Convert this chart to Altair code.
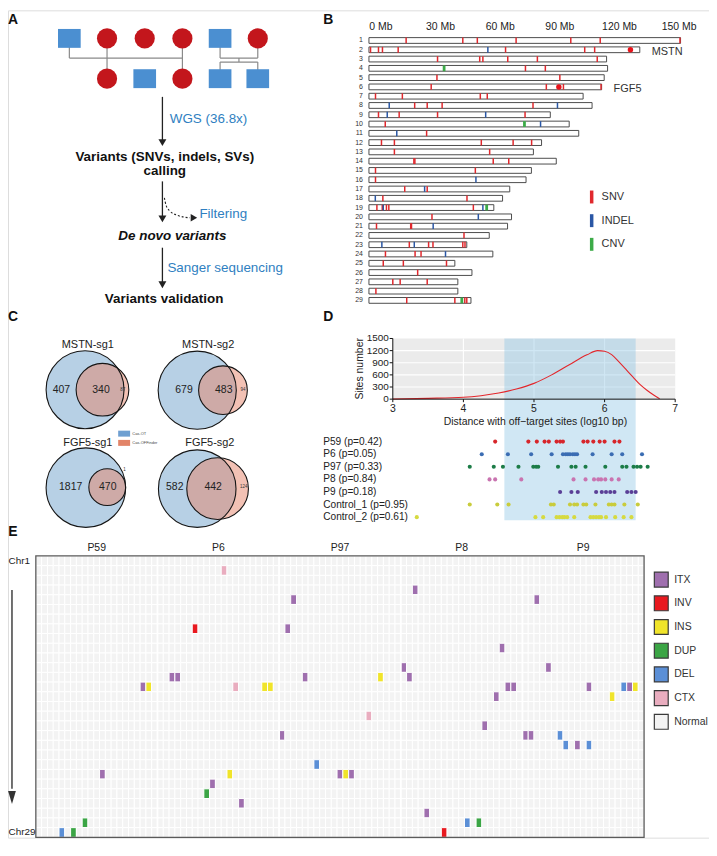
import altair as alt
import pandas as pd

OFF = 8
W, H = 705, 832
FONT = "Liberation Sans"
E_SHIFT = -14.0

# ===================== DATA =====================
# ---- Panel A: pedigree and workflow ----
ped_sex = ["M", "F", "F", "F", "M", "F", "F", "M", "F", "M", "M"]
ped_col = [0, 1, 2, 3, 4, 5, 1, 2, 3, 4, 5]
ped_gen = [0, 0, 0, 0, 0, 0, 1, 1, 1, 1, 1]
flow_steps = ["Variants (SNVs, indels, SVs)", "calling", "De novo variants", "Variants validation"]
flow_actions = ["WGS (36.8x)", "Filtering", "Sanger sequencing"]

# ---- Panel B: chromosome map ----
chrom_ids = list(range(1, 30))
chrom_len_mb = [156.7, 136.2, 119.5, 120.0, 118.3, 117.0, 107.7, 112.2, 91.2, 100.7,
                105.5, 86.8, 82.7, 94.2, 81.7, 79.0, 70.8, 67.2, 62.8, 71.7,
                69.7, 60.5, 49.2, 62.3, 43.2, 51.8, 44.7, 44.7, 51.3]
snv_by_chrom = {
    1: [18.7, 47.2, 54.5, 74.0, 101.5, 116.3, 156.4],
    2: [0.8, 4.8, 6.8, 14.7, 68.7, 108.5, 113.5],
    3: [34.5, 55.7, 57.3, 69.8, 84.7, 114.8],
    4: [78.7, 88.7],
    5: [34.2, 96.0],
    6: [31.3, 89.2, 97.8, 116.7],
    7: [3.3, 16.8, 56.0, 59.5],
    8: [23.0, 29.3, 36.8, 82.5],
    9: [4.8, 15.2, 34.5, 78.5],
    10: [8.2],
    11: [29.0],
    12: [6.3, 12.8, 56.5, 72.5, 81.8],
    13: [12.8, 60.7],
    14: [22.6, 23.1, 62.5, 70.3],
    15: [3.3, 53.5],
    16: [3.3],
    17: [18.0, 29.3],
    18: [7.0, 49.3],
    19: [4.0, 6.7, 8.8, 10.0, 52.5],
    20: [31.7],
    21: [3.8, 21.0, 21.4],
    22: [47.8],
    23: [20.3, 30.0, 32.2, 47.2, 48.3],
    24: [8.3, 23.2, 26.2],
    25: [7.2, 17.3, 39.0],
    26: [24.5],
    27: [12.0, 15.7, 29.3],
    28: [3.5],
    29: [19.0, 43.2, 48.2, 49.2],
}
indel_by_chrom = {2: [59.8], 8: [10.2, 94.8], 9: [9.2, 58.7], 10: [86.3], 11: [14.0],
                  16: [53.8], 17: [28.0], 18: [3.2], 19: [7.2, 57.3], 20: [55.0],
                  21: [32.3], 23: [6.5, 22.8], 24: [38.5]}
cnv_by_chrom = {4: [37.8], 10: [78.2], 19: [59.2], 29: [46.7]}
gene_names = ["MSTN", "FGF5"]
gene_chrom = [2, 6]
gene_pos_mb = [131.5, 95.5]
mb_ticks = [0, 30, 60, 90, 120, 150]
var_types = ["SNV", "INDEL", "CNV"]
var_colors = ["#e0282d", "#2a57a5", "#3cab48"]

# ---- Panel C: Venn diagrams ----
venn_titles = ["MSTN-sg1", "MSTN-sg2", "FGF5-sg1", "FGF5-sg2"]
cas_ot_only = [407, 679, 1817, 582]
shared_sites = [340, 483, 470, 442]
cas_offinder_only = [87, 94, 1, 124]
venn_legend = ["Cas-OT", "Cas-OFFinder"]

# ---- Panel D: distance to off-target sites ----
dens_x = [3.0, 3.5, 4.0, 4.25, 4.5, 4.75, 5.0, 5.25, 5.5, 5.75, 5.9, 6.0, 6.1, 6.2, 6.3, 6.4, 6.5, 6.6, 6.7, 6.78]
dens_y = [5, 20, 45, 85, 150, 250, 390, 600, 850, 1095, 1200, 1185, 1100, 930, 740, 550, 365, 220, 95, 10]
shade_range = [4.58, 6.44]
d_xticks = [3, 4, 5, 6, 7]
d_yticks = [0, 300, 600, 900, 1200, 1500]
strip_names = ["P59", "P6", "P97", "P8", "P9", "Control_1", "Control_2"]
strip_p = ["0.42", "0.05", "0.33", "0.84", "0.18", "0.95", "0.61"]
strip_colors = ["#d7262b", "#3b6db3", "#1c7c47", "#c974b0", "#5a3f96", "#c9cc3c", "#d6da40"]
strip_values = [
    [4.45, 4.92, 5.04, 5.15, 5.21, 5.32, 5.37, 5.41, 5.70, 5.76, 5.84, 5.93, 6.00, 6.14, 6.21],
    [4.26, 4.63, 4.96, 5.25, 5.41, 5.45, 5.48, 5.51, 5.55, 5.58, 5.61, 5.83, 6.10, 6.25, 6.53],
    [4.09, 4.43, 4.56, 4.78, 4.99, 5.03, 5.06, 5.34, 5.53, 5.59, 5.73, 6.01, 6.25, 6.31, 6.41, 6.46, 6.51, 6.61],
    [4.37, 4.45, 4.82, 5.56, 5.73, 5.85, 5.91, 5.95, 6.01, 6.10, 6.20],
    [5.37, 5.53, 5.62, 5.88, 5.96, 6.02, 6.08, 6.14, 6.32, 6.38, 6.44],
    [4.09, 4.48, 4.64, 5.24, 5.28, 5.51, 5.57, 5.61, 5.70, 5.74, 5.87, 6.06, 6.10, 6.14, 6.28, 6.47],
    [3.34, 5.02, 5.13, 5.32, 5.36, 5.40, 5.43, 5.47, 5.57, 5.80, 5.84, 5.88, 5.92, 5.95, 6.02, 6.15, 6.27, 6.38],
]

# ---- Panel E: SV heatmap ----
e_samples = ["P59", "P6", "P97", "P8", "P9"]
e_cols_per_sample = 21
e_n_chrom = 29
sv_order = ["ITX", "INV", "INS", "DUP", "DEL", "CTX", "Normal"]
sv_colors = ["#9f6fae", "#e8191f", "#f0e42a", "#3ba545", "#5b8fd6", "#e9adbf", "#f3f3f3"]
sv_row = [2, 8, 13, 13, 14, 14, 14, 23, 23, 24, 25, 28, 29, 29,
          4, 5, 8, 12, 13, 13, 13, 14, 14, 17, 19, 22, 23, 23, 23, 26, 27,
          5, 10, 12, 14, 14, 14, 14, 14, 14, 15, 15, 18, 19, 19, 19, 20, 20, 20, 28, 28, 29]
sv_col = [32, 27, 23, 24, 18, 19, 34, 11, 33, 30, 29, 8, 4, 6,
          65, 44, 43, 63, 46, 59, 64, 39, 40, 57, 42, 48, 52, 53, 54, 35, 67,
          86, 80, 88, 81, 82, 95, 101, 102, 103, 79, 99, 77, 84, 85, 90, 91, 93, 95, 74, 76, 70]
sv_type = ["CTX", "INV", "ITX", "ITX", "ITX", "INS", "CTX", "ITX", "INS", "ITX", "DUP", "DUP", "DEL", "DUP",
           "ITX", "ITX", "ITX", "ITX", "ITX", "INS", "ITX", "INS", "INS", "CTX", "ITX", "DEL", "ITX", "INS", "ITX", "ITX", "ITX",
           "ITX", "ITX", "ITX", "ITX", "ITX", "ITX", "DEL", "ITX", "INS", "ITX", "INS", "ITX", "ITX", "ITX", "DEL", "DEL", "ITX", "DEL", "DEL", "DUP", "INV"]


# ===================== HELPERS =====================
def S(d0, d1, p0, p1):
    """Linear scale mapping a domain onto a pixel band of the page."""
    return alt.Scale(domain=[d0, d1], range=[p0 - OFF, p1 - OFF], nice=False, zero=False)


def X(f, s):
    return alt.X(f, scale=s, axis=None)


def Y(f, s):
    return alt.Y(f, scale=s, axis=None)


def pv(p):
    return alt.value(p - OFF)


PX = S(0, 1000, 0, 1000)
PY = S(0, 1000, 0, 1000)
layers = []

# ===================== PANEL LETTERS =====================
letters = pd.DataFrame({"t": ["A", "B", "C", "D", "E"],
                        "x": [13, 330, 13, 330, 13],
                        "y": [18, 18, 316, 316, 546.7 + E_SHIFT]})
layers.append(alt.Chart(letters).mark_text(font=FONT, fontSize=14, fontWeight="bold", baseline="middle",
                                           align="center", color="#111").encode(
    x=X("x:Q", PX), y=Y("y:Q", PY), text="t:N"))

# ===================== PANEL A =====================
PEDX = S(0, 5, 69.7, 259.2)
PEDY = S(0, 1, 36.2, 76.7)
ped = pd.DataFrame({"sex": ped_sex, "col": ped_col, "gen": ped_gen})
ped_links = pd.DataFrame({
    "xa": [0, 0, 1, 3, 4, 5, 4, 4.5, 4, 4, 5],
    "xb": [0, 3, 1, 3, 4, 5, 5, 4.5, 5, 4, 5],
    "ya": [0, 0.489, 0, 0, 0, 0, 0.489, 0.489, 0.588, 0.588, 0.588],
    "yb": [0.489, 0.489, 1, 1, 0.489, 0.489, 0.489, 0.588, 0.588, 1, 1]})
layers.append(alt.Chart(ped_links).mark_rule(color="#8a8a8a", strokeWidth=1.2).encode(
    x=X("xa:Q", PEDX), x2="xb:Q", y=Y("ya:Q", PEDY), y2="yb:Q"))
layers.append(alt.Chart(ped).transform_filter("datum.sex == 'M'").mark_point(
    shape="M-1.2,-1H1.2V1H-1.2Z", size=361, filled=True, fill="#4b8fd1", opacity=1, strokeWidth=0).encode(
    x=X("col:Q", PEDX), y=Y("gen:Q", PEDY)))
layers.append(alt.Chart(ped).transform_filter("datum.sex == 'F'").mark_point(
    shape="circle", size=410, filled=True, fill="#c3161c", opacity=1, strokeWidth=0).encode(
    x=X("col:Q", PEDX), y=Y("gen:Q", PEDY)))

# workflow arrows
arrow_df = pd.DataFrame({"x": [163.3] * 3, "y0": [95, 180, 246.7], "tip": [145, 221.7, 288]})
layers.append(alt.Chart(arrow_df).transform_calculate(y1="datum.tip - 5").mark_rule(
    color="#222", strokeWidth=1.3).encode(x=X("x:Q", PX), y=Y("y0:Q", PY), y2="y1:Q"))
layers.append(alt.Chart(arrow_df).transform_calculate(yh="datum.tip - 4").mark_point(
    shape="triangle-down", size=64, filled=True, fill="#222", opacity=1, strokeWidth=0).encode(
    x=X("x:Q", PX), y=Y("yh:Q", PY)))
curve_df = pd.DataFrame({"i": [0, 1, 2, 3, 4, 5],
                         "x": [165.3, 166.8, 170.5, 177.5, 185.5, 191.0],
                         "y": [196.5, 203.5, 209.5, 213.8, 216.0, 216.6]})
layers.append(alt.Chart(curve_df).mark_line(color="#222", strokeWidth=1.1, strokeDash=[2, 2],
                                            interpolate="monotone").encode(
    x=X("x:Q", PX), y=Y("y:Q", PY), order="i:Q"))
layers.append(alt.Chart(pd.DataFrame({"x": [195.0], "y": [216.6]})).mark_point(
    shape="triangle-right", size=56, filled=True, fill="#222", opacity=1, strokeWidth=0).encode(
    x=X("x:Q", PX), y=Y("y:Q", PY)))
act_df = pd.DataFrame({"t": flow_actions, "x": [170.7, 200.5, 168.3], "y": [117.3, 213.3, 266.7]})
layers.append(alt.Chart(act_df).mark_text(font=FONT, fontSize=13.5, align="left", baseline="middle",
                                          color="#2f7fc1").encode(x=X("x:Q", PX), y=Y("y:Q", PY), text="t:N"))
step_df = pd.DataFrame({"t": flow_steps, "x": [165.7, 165.7, 173.3, 165.0], "y": [156.0, 169.5, 235.0, 298.5],
                        "it": ["normal", "normal", "italic", "normal"]})
layers.append(alt.Chart(step_df).transform_filter("datum.it == 'normal'").mark_text(
    font=FONT, fontSize=13.5, fontWeight="bold", align="center", baseline="middle", color="#111").encode(
    x=X("x:Q", PX), y=Y("y:Q", PY), text="t:N"))
layers.append(alt.Chart(step_df).transform_filter("datum.it == 'italic'").mark_text(
    font=FONT, fontSize=13.5, fontWeight="bold", fontStyle="italic", align="center", baseline="middle",
    color="#111").encode(x=X("x:Q", PX), y=Y("y:Q", PY), text="t:N"))

# ===================== PANEL B =====================
BX = S(0, 160, 371, 691)
BY = S(1, 29, 38.3, 299.7)
chrom_df = pd.DataFrame({"chrom": chrom_ids, "length": chrom_len_mb})
chrom_df["label"] = chrom_df["chrom"].astype(str)
layers.append(alt.Chart(chrom_df).transform_calculate(
    start="0", y0="datum.chrom - 0.31", y1="datum.chrom + 0.31").mark_rect(
    fill="white", stroke="#4d4d4d", strokeWidth=1).encode(
    x=X("start:Q", BX), x2="length:Q", y=Y("y0:Q", BY), y2="y1:Q"))
rows = []
for vt, dd in zip(var_types, [snv_by_chrom, indel_by_chrom, cnv_by_chrom]):
    for c, lst in dd.items():
        for p in lst:
            rows.append({"chrom": c, "pos": p, "vtype": vt})
var_df = pd.DataFrame(rows)
layers.append(alt.Chart(var_df).transform_calculate(
    y0="datum.chrom - 0.31", y1="datum.chrom + 0.31",
    w="datum.vtype == 'CNV' ? 2.8 : 1.5").mark_rule().encode(
    x=X("pos:Q", BX), y=Y("y0:Q", BY), y2="y1:Q",
    color=alt.Color("vtype:N", scale=alt.Scale(domain=var_types, range=var_colors), legend=None),
    strokeWidth=alt.StrokeWidth("w:Q", scale=None)))
gene_df = pd.DataFrame({"t": gene_names, "chrom": gene_chrom, "pos": gene_pos_mb,
                        "end": [chrom_len_mb[c - 1] for c in gene_chrom]})
layers.append(alt.Chart(gene_df).mark_circle(size=30, color="#e8141c", opacity=1).encode(
    x=X("pos:Q", BX), y=Y("chrom:Q", BY)))
layers.append(alt.Chart(gene_df).mark_text(font=FONT, fontSize=11, align="left", baseline="middle",
                                           dx=12, dy=2.5, color="#333").encode(
    x=X("end:Q", BX), y=Y("chrom:Q", BY), text="t:N"))
tick_df = pd.DataFrame({"v": mb_ticks, "t": [f"{v} Mb" for v in mb_ticks]})
layers.append(alt.Chart(tick_df).mark_text(font=FONT, fontSize=10.5, align="center", baseline="middle",
                                           dx=12, color="#222").encode(
    x=X("v:Q", BX), y=pv(25.0), text="t:N"))
layers.append(alt.Chart(chrom_df).transform_calculate(zero="0").mark_text(
    font=FONT, fontSize=7, align="right", baseline="middle", dx=-6, color="#333").encode(
    x=X("zero:Q", BX), y=Y("chrom:Q", BY), text="label:N"))
BLY = S(0, 2, 195.7, 243.3)
bleg = pd.DataFrame({"t": var_types, "i": [0, 1, 2]})
layers.append(alt.Chart(bleg).mark_point(shape="M-0.27,-1H0.27V1H-0.27Z", size=169, filled=True,
                                         opacity=1, strokeWidth=0).encode(
    x=pv(595.0), y=Y("i:Q", BLY),
    color=alt.Color("t:N", scale=alt.Scale(domain=var_types, range=var_colors), legend=None)))
layers.append(alt.Chart(bleg).mark_text(font=FONT, fontSize=11, align="left", baseline="middle",
                                        color="#333").encode(x=pv(605.0), y=Y("i:Q", BLY), text="t:N"))

# ===================== PANEL C =====================
venn_geo = pd.DataFrame({
    "bx": [85.5, 198.3, 86.3, 198.3], "by": [389.5, 390.0, 488.0, 489.0], "br": [39.2, 39.3, 40.0, 39.0],
    "px": [103.0, 224.2, 107.8, 218.8], "py": [389.5, 390.0, 487.5, 489.0], "pr": [26.5, 24.5, 18.5, 31.0]})
blue = venn_geo[["bx", "by", "br"]].rename(columns={"bx": "x", "by": "y", "br": "r"})
pink = venn_geo[["px", "py", "pr"]].rename(columns={"px": "x", "py": "y", "pr": "r"})
layers.append(alt.Chart(blue).transform_calculate(sz="4 * datum.r * datum.r").mark_point(
    shape="circle", filled=True, fill="#b7d0e5", opacity=1, strokeWidth=0).encode(
    x=X("x:Q", PX), y=Y("y:Q", PY), size=alt.Size("sz:Q", scale=None)))
layers.append(alt.Chart(pink).transform_calculate(sz="4 * datum.r * datum.r").mark_point(
    shape="circle", filled=True, fill="#e5836a", opacity=1, fillOpacity=0.5, strokeWidth=0).encode(
    x=X("x:Q", PX), y=Y("y:Q", PY), size=alt.Size("sz:Q", scale=None)))
both = pd.concat([blue, pink], ignore_index=True)
layers.append(alt.Chart(both).transform_calculate(sz="4 * datum.r * datum.r").mark_point(
    shape="circle", filled=False, stroke="#151515", strokeWidth=1.1, opacity=1).encode(
    x=X("x:Q", PX), y=Y("y:Q", PY), size=alt.Size("sz:Q", scale=None)))
vt = pd.DataFrame({"t": venn_titles, "x": [88.3, 209.3, 88.3, 211.0], "y": [344.3, 344.3, 442.7, 442.7]})
layers.append(alt.Chart(vt).mark_text(font=FONT, fontSize=11, align="center", baseline="middle",
                                      color="#222").encode(x=X("x:Q", PX), y=Y("y:Q", PY), text="t:N"))
big_nums = pd.DataFrame({
    "t": [str(v) for v in cas_ot_only + shared_sites],
    "x": [61.7, 185.0, 71.0, 175.7, 101.5, 225.0, 108.3, 214.3],
    "y": [389.5, 390.0, 487.0, 487.5, 389.5, 390.0, 487.0, 487.5]})
layers.append(alt.Chart(big_nums).mark_text(font=FONT, fontSize=10.5, align="center", baseline="middle",
                                            color="#222").encode(x=X("x:Q", PX), y=Y("y:Q", PY), text="t:N"))
small_nums = pd.DataFrame({"t": [str(v) for v in cas_offinder_only],
                           "x": [123.5, 244.3, 125.2, 245.0], "y": [389.5, 390.0, 470.7, 487.5]})
layers.append(alt.Chart(small_nums).mark_text(font=FONT, fontSize=4.5, align="center", baseline="middle",
                                              color="#333").encode(x=X("x:Q", PX), y=Y("y:Q", PY), text="t:N"))
CLY = S(0, 1, 433.7, 443.0)
cleg = pd.DataFrame({"t": venn_legend, "i": [0, 1]})
layers.append(alt.Chart(cleg).mark_point(shape="M-1,-0.5H1V0.5H-1Z", size=144, filled=True, opacity=1,
                                         strokeWidth=0).encode(
    x=pv(124.8), y=Y("i:Q", CLY),
    color=alt.Color("t:N", scale=alt.Scale(domain=venn_legend, range=["#6e9fd1", "#e28468"]), legend=None)))
layers.append(alt.Chart(cleg).mark_text(font=FONT, fontSize=4, align="left", baseline="middle",
                                        color="#444").encode(x=pv(133.0), y=Y("i:Q", CLY), text="t:N"))

# ===================== PANEL D =====================
DX = S(3, 7, 395, 679)
DY = S(0, 1500, 399, 338)
RY = S(0, 6, 441.7, 517.7)
bg = pd.DataFrame({"x0": [d_xticks[0]], "x1": [d_xticks[-1]], "y0": [d_yticks[0]], "y1": [d_yticks[-1]]})
layers.append(alt.Chart(bg).mark_rect(fill="#ebebeb").encode(
    x=X("x0:Q", DX), x2="x1:Q", y=Y("y0:Q", DY), y2="y1:Q"))
gy = pd.DataFrame({"v": d_yticks[1:-1]})
layers.append(alt.Chart(gy).transform_calculate(a="3", b="7").mark_rule(color="white", strokeWidth=1.1).encode(
    x=X("a:Q", DX), x2="b:Q", y=Y("v:Q", DY)))
gx = pd.DataFrame({"v": d_xticks[1:-1]})
layers.append(alt.Chart(gx).transform_calculate(a="0", b="1500").mark_rule(color="white", strokeWidth=1.1).encode(
    x=X("v:Q", DX), y=Y("a:Q", DY), y2="b:Q"))
shade = pd.DataFrame({"x0": [shade_range[0]], "x1": [shade_range[1]]})
layers.append(alt.Chart(shade).mark_rect(fill="#8fc6e4", opacity=0.42).encode(
    x=X("x0:Q", DX), x2="x1:Q", y=pv(338.0), y2=pv(520.7)))
dens = pd.DataFrame({"x": dens_x, "y": dens_y})
layers.append(alt.Chart(dens).mark_line(color="#e3262b", strokeWidth=1.1, interpolate="monotone").encode(
    x=X("x:Q", DX), y=Y("y:Q", DY)))
# axes of the density plot
layers.append(alt.Chart(bg).mark_rule(color="#111", strokeWidth=1).encode(
    x=X("x0:Q", DX), y=Y("y0:Q", DY), y2="y1:Q"))
layers.append(alt.Chart(bg).mark_rule(color="#111", strokeWidth=1).encode(
    x=X("x0:Q", DX), x2="x1:Q", y=Y("y0:Q", DY)))
ytk = pd.DataFrame({"v": d_yticks, "t": [str(v) for v in d_yticks]})
layers.append(alt.Chart(ytk).transform_calculate(a="3", b="2.955").mark_rule(color="#111", strokeWidth=1).encode(
    x=X("a:Q", DX), x2="b:Q", y=Y("v:Q", DY)))
layers.append(alt.Chart(ytk).transform_calculate(a="3").mark_text(
    font=FONT, fontSize=10, align="right", baseline="middle", dx=-4, color="#222").encode(
    x=X("a:Q", DX), y=Y("v:Q", DY), text="t:N"))
xtk = pd.DataFrame({"v": d_xticks, "t": [str(v) for v in d_xticks]})
layers.append(alt.Chart(xtk).transform_calculate(a="0", b="-75").mark_rule(color="#111", strokeWidth=1).encode(
    x=X("v:Q", DX), y=Y("a:Q", DY), y2="b:Q"))
layers.append(alt.Chart(xtk).transform_calculate(a="0").mark_text(
    font=FONT, fontSize=10.5, align="center", baseline="middle", dy=10, color="#222").encode(
    x=X("v:Q", DX), y=Y("a:Q", DY), text="t:N"))
dtitle = pd.DataFrame({"t": ["Distance with off\u2212target sites (log10 bp)"], "x": [5.02], "y": [0]})
layers.append(alt.Chart(dtitle).mark_text(font=FONT, fontSize=10.5, align="center", baseline="middle",
                                          dy=23.3, color="#222").encode(
    x=X("x:Q", DX), y=Y("y:Q", DY), text="t:N"))
ytitle = pd.DataFrame({"t": ["Sites number"], "x": [3], "y": [750]})
layers.append(alt.Chart(ytitle).mark_text(font=FONT, fontSize=10.5, align="center", baseline="middle",
                                          angle=270, xOffset=-33, color="#222").encode(
    x=X("x:Q", DX), y=Y("y:Q", DY), text="t:N"))
srows = []
for i, (nm, vals) in enumerate(zip(strip_names, strip_values)):
    for v in vals:
        srows.append({"row": i, "v": v, "sample": nm})
strip_df = pd.DataFrame(srows)
layers.append(alt.Chart(strip_df).mark_circle(size=17, opacity=1).encode(
    x=X("v:Q", DX), y=Y("row:Q", RY),
    color=alt.Color("sample:N", scale=alt.Scale(domain=strip_names, range=strip_colors), legend=None)))
slab = pd.DataFrame({"row": list(range(7)),
                     "t": [f"{n} (p={p})" for n, p in zip(strip_names, strip_p)]})
layers.append(alt.Chart(slab).transform_calculate(a="3").mark_text(
    font=FONT, fontSize=10.2, align="left", baseline="middle", xOffset=-70, color="#222").encode(
    x=X("a:Q", DX), y=Y("row:Q", RY), text="t:N"))

# ===================== PANEL E =====================
n_cols = e_cols_per_sample * len(e_samples)
EX = S(0, n_cols, 36.0, 647.7)
EY = S(0.5, e_n_chrom + 0.5, 570.7 + E_SHIFT, 853.7 + E_SHIFT)
sv_lookup = {(r, c): t for r, c, t in zip(sv_row, sv_col, sv_type)}
cells = pd.DataFrame([{"row": r, "col": c, "type": sv_lookup.get((r, c), "Normal")}
                      for r in range(1, e_n_chrom + 1) for c in range(n_cols)])
layers.append(alt.Chart(cells).transform_calculate(
    x1="datum.col + 1", y0="datum.row - 0.5", y1="datum.row + 0.5").mark_rect(
    stroke="white", strokeWidth=1).encode(
    x=X("col:Q", EX), x2="x1:Q", y=Y("y0:Q", EY), y2="y1:Q",
    color=alt.Color("type:N", scale=alt.Scale(domain=sv_order, range=sv_colors), legend=None)))
seps = pd.DataFrame({"v": [e_cols_per_sample * k for k in range(1, len(e_samples))]})
layers.append(alt.Chart(seps).transform_calculate(a="0.5", b=str(e_n_chrom + 0.5)).mark_rule(
    color="white", strokeWidth=1.8).encode(x=X("v:Q", EX), y=Y("a:Q", EY), y2="b:Q"))
frame = pd.DataFrame({"x0": [0], "x1": [n_cols], "y0": [0.5], "y1": [e_n_chrom + 0.5]})
layers.append(alt.Chart(frame).mark_rect(fill="white", fillOpacity=0, stroke="#5a5a5a", strokeWidth=1.3).encode(
    x=X("x0:Q", EX), x2="x1:Q", y=Y("y0:Q", EY), y2="y1:Q"))
glab = pd.DataFrame({"t": e_samples, "k": list(range(len(e_samples)))})
layers.append(alt.Chart(glab).transform_calculate(c=f"(datum.k + 0.5) * {e_cols_per_sample}").mark_text(
    font=FONT, fontSize=10.5, align="center", baseline="middle", color="#222").encode(
    x=X("c:Q", EX), y=pv(563.0 + E_SHIFT), text="t:N"))
chr_lab = pd.DataFrame({"t": ["Chr1", "Chr" + str(e_n_chrom)], "row": [1, e_n_chrom]})
layers.append(alt.Chart(chr_lab).mark_text(font=FONT, fontSize=10, align="left", baseline="middle",
                                           color="#222").encode(x=pv(8.5), y=Y("row:Q", EY), text="t:N"))
arr = pd.DataFrame({"a": [4.0], "b": [24.5]})
layers.append(alt.Chart(arr).mark_rule(color="#333", strokeWidth=1.4).encode(
    x=pv(12.0), y=Y("a:Q", EY), y2="b:Q"))
layers.append(alt.Chart(pd.DataFrame({"y": [25.4]})).mark_point(
    shape="M-0.6,-1L0.6,-1L0,1Z", size=169, filled=True, fill="#333", opacity=1, strokeWidth=0).encode(
    x=pv(12.0), y=Y("y:Q", EY)))
ELY = S(0, len(sv_order) - 1, 594.5 + E_SHIFT, 737.5 + E_SHIFT)
eleg = pd.DataFrame({"t": sv_order, "i": list(range(len(sv_order)))})
layers.append(alt.Chart(eleg).mark_point(shape="M-0.93,-1H0.93V1H-0.93Z", size=225, filled=True, opacity=1,
                                         stroke="#3a3a3a", strokeWidth=1.2).encode(
    x=pv(665.0), y=Y("i:Q", ELY),
    color=alt.Color("t:N", scale=alt.Scale(domain=sv_order, range=sv_colors), legend=None)))
layers.append(alt.Chart(eleg).mark_text(font=FONT, fontSize=10.5, align="left", baseline="middle",
                                        color="#333").encode(x=pv(678.0), y=Y("i:Q", ELY), text="t:N"))

# ===================== ASSEMBLE =====================
chart = alt.layer(*layers).resolve_scale(
    x="independent", y="independent", color="independent", size="independent", strokeWidth="independent"
).properties(width=W, height=H, padding=0, autosize=alt.AutoSizeParams(type="none")).configure_view(
    stroke=None).configure(background="white")

chart.save("out.html", embed_options={"renderer": "svg", "actions": False})
